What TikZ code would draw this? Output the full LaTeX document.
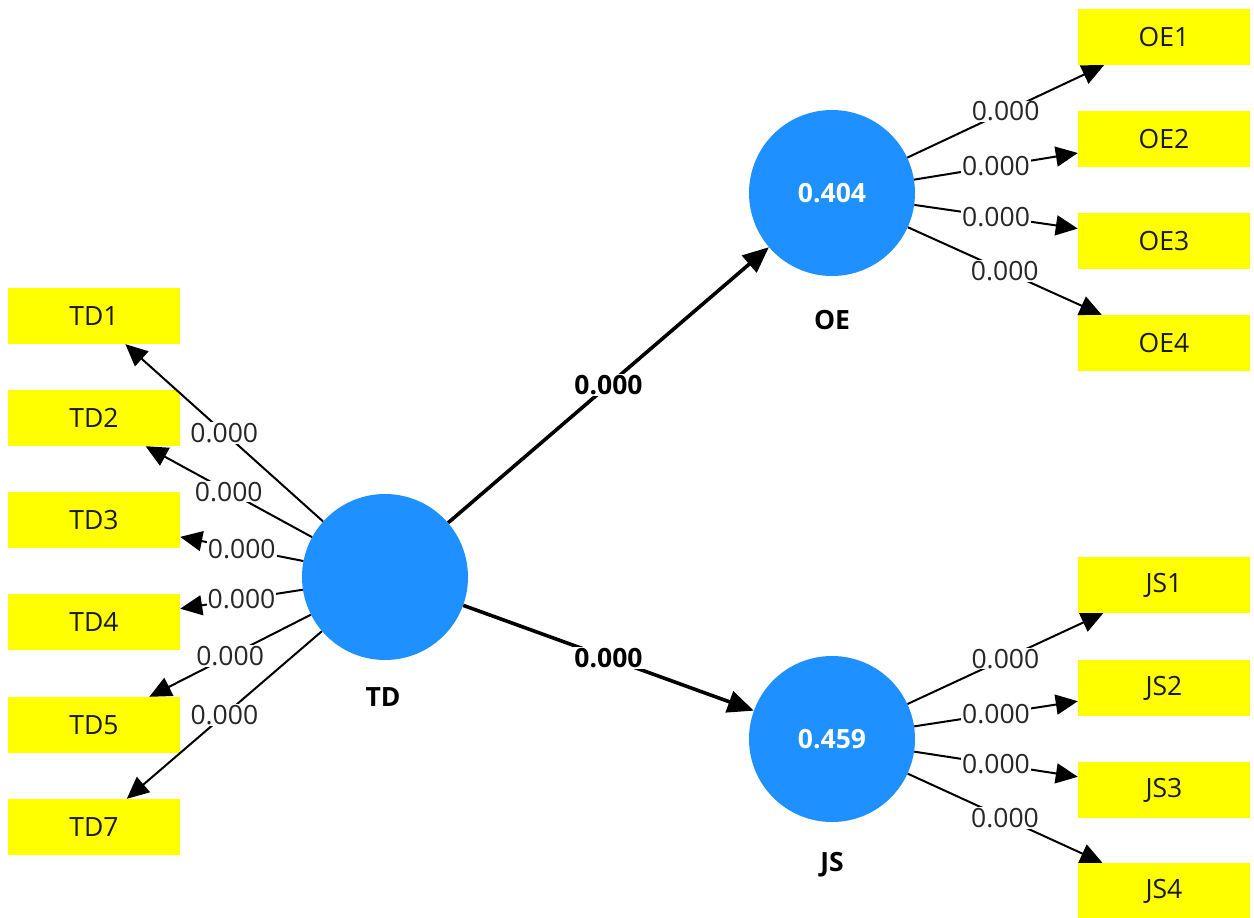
\documentclass[tikz,border=0pt]{standalone}
\usepackage{fontspec}
\setmainfont{Open Sans}
\usetikzlibrary{arrows.meta}
\definecolor{boxyellow}{RGB}{255,255,0}
\definecolor{lvblue}{RGB}{30,144,255}
\begin{document}
\begin{tikzpicture}[x=1pt,y=-1pt,
 ind/.style={fill=boxyellow, minimum width=172pt, minimum height=56pt, inner sep=0pt, font=\fontsize{26.5}{30}\selectfont, text=black!90},
 lv/.style={circle, fill=lvblue, minimum size=166pt, inner sep=0pt, text=white, font=\fontsize{26.5}{30}\selectfont\bfseries},
 lvname/.style={font=\fontsize{26.5}{30}\selectfont\bfseries},
 load/.style={line width=2pt, -{Triangle[length=22pt,width=20pt]}},
 pathar/.style={line width=3.6pt, -{Triangle[length=26pt,width=22pt]}},
 lbl/.style={fill=white, inner sep=1pt, font=\fontsize{26.5}{30}\selectfont, text=black!85},
 plbl/.style={fill=white, inner sep=1pt, font=\fontsize{26.5}{30}\selectfont\bfseries}
]
\useasboundingbox (0,0) rectangle (1254,918);

% latent variables
\node[lv] (TD) at (385,577) {};
\node[lv] (OE) at (832,193) {0.404};
\node[lv] (JS) at (832,739) {0.459};
\node[lvname] (TDn) at (383,697) {TD};
\node[lvname] (OEn) at (832,320) {OE};
\node[lvname] (JSn) at (832,865) {JS};

% indicators
\node[ind] (TD1) at (94,316) {TD1};
\node[ind] (TD2) at (94,418) {TD2};
\node[ind] (TD3) at (94,520) {TD3};
\node[ind] (TD4) at (94,622) {TD4};
\node[ind] (TD5) at (94,725) {TD5};
\node[ind] (TD7) at (94,827) {TD7};

\node[ind] (OE1) at (1164,37) {OE1};
\node[ind] (OE2) at (1164,139) {OE2};
\node[ind] (OE3) at (1164,241) {OE3};
\node[ind] (OE4) at (1164,343) {OE4};

\node[ind] (JS1) at (1164,585) {JS1};
\node[ind] (JS2) at (1164,688) {JS2};
\node[ind] (JS3) at (1164,790) {JS3};
\node[ind] (JS4) at (1164,891) {JS4};

% outer loadings
\draw[load] (TD) -- node[lbl] (l1) {0.000} (TD1);
\draw[load] (TD) -- node[lbl] (l2) {0.000} (TD2);
\draw[load] (TD) -- node[lbl] (l3) {0.000} (TD3);
\draw[load] (TD) -- node[lbl] (l4) {0.000} (TD4);
\draw[load] (TD) -- node[lbl] (l5) {0.000} (TD5);
\draw[load] (TD) -- node[lbl] (l7) {0.000} (TD7);

\draw[load] (OE) -- node[lbl] (m1) {0.000} (OE1);
\draw[load] (OE) -- node[lbl] (m2) {0.000} (OE2);
\draw[load] (OE) -- node[lbl] (m3) {0.000} (OE3);
\draw[load] (OE) -- node[lbl] (m4) {0.000} (OE4);

\draw[load] (JS) -- node[lbl] (n1) {0.000} (JS1);
\draw[load] (JS) -- node[lbl] (n2) {0.000} (JS2);
\draw[load] (JS) -- node[lbl] (n3) {0.000} (JS3);
\draw[load] (JS) -- node[lbl] (n4) {0.000} (JS4);

% structural paths
\draw[pathar] (TD) -- node[plbl] (p1) {0.000} (OE);
\draw[pathar] (TD) -- node[plbl] (p2) {0.000} (JS);
\end{tikzpicture}
\end{document}
